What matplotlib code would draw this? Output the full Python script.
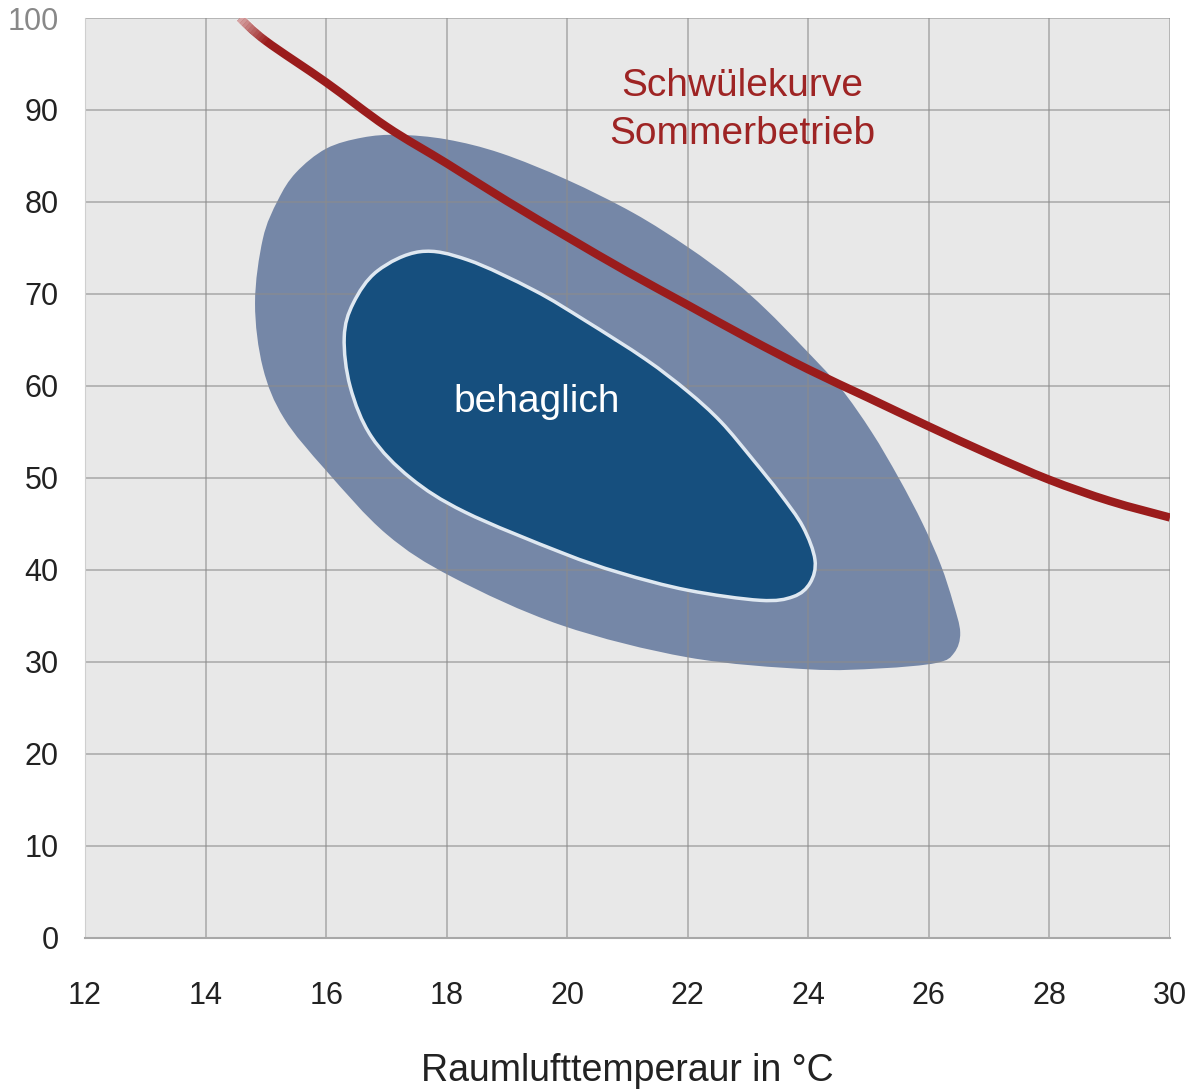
import matplotlib
matplotlib.use('Agg')
from matplotlib import pyplot as plt
from matplotlib.path import Path
from matplotlib.patches import PathPatch
import numpy as np

plt.rcParams['font.family'] = ['Liberation Sans', 'DejaVu Sans']

# Schwülekurve (Raumlufttemperatur in °C, rel. Feuchte in %)
curve_t = [14.57, 15.0, 16.0, 17.0, 18.0, 19.0, 20.0, 21.0, 22.0,
           23.0, 24.0, 25.0, 26.0, 27.0, 28.0, 29.0, 30.0]
curve_rh = [100.0, 97.5, 93.0, 88.2, 84.2, 80.1, 76.2, 72.4, 68.8,
            65.2, 61.8, 58.7, 55.6, 52.6, 49.8, 47.5, 45.7]

# "noch behaglich" (äußere Fläche)
outer_t = [17.2, 18.0, 18.9, 20.0, 21.1, 22.0, 22.75, 23.3, 23.9, 24.52, 25.05, 25.5,
           25.9, 26.2, 26.4, 26.52, 26.42, 26.13, 25.19, 24.0, 22.0, 19.9, 18.1, 17.0,
           16.0, 15.3, 14.95, 14.82, 14.95, 15.2, 15.5, 16.0, 16.6]
outer_rh = [87.3, 86.8, 85.3, 82.4, 78.8, 75.1, 71.5, 68.3, 64.3, 59.9, 55.0, 50.0,
            45.0, 40.5, 36.5, 33.2, 31.0, 29.9, 29.3, 29.2, 30.5, 34.0, 39.2, 43.9,
            50.8, 56.5, 62.0, 69.0, 76.0, 80.2, 83.2, 85.8, 87.0]

# behaglich (innere Fläche)
inner_t = [17.56, 18.35, 19.45, 20.3, 21.3, 22.0, 22.55, 23.08, 23.53, 23.91, 24.11,
           24.03, 23.75, 23.2, 22.0, 20.87, 19.9, 18.3, 17.4, 16.75, 16.4, 16.3, 16.45, 16.85]
inner_rh = [74.6, 73.7, 70.4, 67.1, 62.9, 59.4, 56.1, 52.0, 48.3, 44.7, 41.1,
            38.6, 37.1, 36.7, 37.8, 39.7, 41.9, 46.3, 50.0, 54.5, 59.9, 65.3, 69.0, 72.5]

x_ticks = [12, 14, 16, 18, 20, 22, 24, 26, 28, 30]
y_ticks = [0, 10, 20, 30, 40, 50, 60, 70, 80, 90, 100]


def smooth_path(xs, ys, closed=True):
    # catmull-rom through the read points, drawn as cubic bezier segments
    pts = list(zip(xs, ys))
    n = len(pts)

    def p(i):
        if closed:
            return pts[i % n]
        return pts[min(max(i, 0), n - 1)]

    verts = [pts[0]]
    codes = [Path.MOVETO]
    segs = n if closed else n - 1
    for i in range(segs):
        p0, p1, p2, p3 = p(i - 1), p(i), p(i + 1), p(i + 2)
        c1 = (p1[0] + (p2[0] - p0[0]) / 6, p1[1] + (p2[1] - p0[1]) / 6)
        c2 = (p2[0] - (p3[0] - p1[0]) / 6, p2[1] - (p3[1] - p1[1]) / 6)
        verts += [c1, c2, p2]
        codes += [Path.CURVE4] * 3
    return Path(verts, codes)


fig = plt.figure(figsize=(11.98, 10.91), dpi=100)
ax = fig.add_axes([0.071, 0.1403, 0.9056, 0.8432])
ax.set_facecolor('#e8e8e8')

ax.add_patch(PathPatch(smooth_path(outer_t, outer_rh), facecolor='#7587a7',
                       edgecolor='none', zorder=1))
for t in x_ticks:
    ax.axvline(t, color='#8c8c8c', lw=1.1, alpha=0.7, zorder=1.5)
for r in y_ticks:
    ax.axhline(r, color='#8c8c8c', lw=1.1, alpha=0.7, zorder=1.5)
ax.add_patch(PathPatch(smooth_path(inner_t, inner_rh), facecolor='#164f7e',
                       edgecolor='#dfe8f1', lw=2.5, zorder=2))

ax.add_patch(PathPatch(smooth_path(curve_t, curve_rh, closed=False), fill=False,
                       edgecolor='#9a1c1c', lw=6, capstyle='butt', zorder=3))
# faded upper end of the curve (first segment only)
fx = np.linspace(curve_t[0], curve_t[1], 11)
fy = np.linspace(curve_rh[0], curve_rh[1], 11)
for i in range(10):
    ax.plot(fx[i:i + 2], fy[i:i + 2], color='white', lw=6.6,
            alpha=0.6 * (1 - i / 10), solid_capstyle='butt', zorder=3.1)

ax.text(22.9, 92.6, 'Schwülekurve', color='#9e2424', fontsize=28, ha='center', va='center')
ax.text(22.9, 87.4, 'Sommerbetrieb', color='#9e2424', fontsize=28, ha='center', va='center')
ax.text(19.5, 58.3, 'behaglich', color='white', fontsize=28, ha='center', va='center', zorder=4)

ax.set_xlim(12, 30)
ax.set_ylim(0, 100)
ax.set_xticks(x_ticks)
ax.set_yticks(y_ticks)
ax.tick_params(length=0, labelsize=22, labelcolor='#222222')
ax.tick_params(axis='x', pad=31)
ax.tick_params(axis='y', pad=19)
ax.get_yticklabels()[-1].set_color('#888888')
for s in ['top', 'right']:
    ax.spines[s].set_visible(False)
ax.spines['left'].set_color('#cfcfcf')
ax.spines['bottom'].set_color('#a8a8a8')
ax.spines['bottom'].set_linewidth(1.5)

ax.set_xlabel('Raumlufttemperaur in °C', fontsize=27, color='#222222', labelpad=30)

fig.savefig('out.png', dpi=100, facecolor='white')
